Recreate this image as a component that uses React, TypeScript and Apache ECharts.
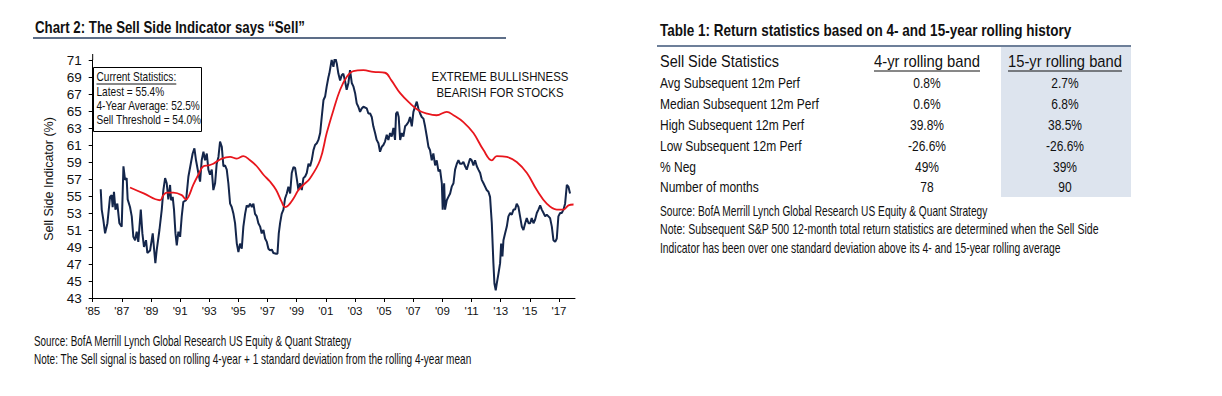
import React, { useEffect, useRef } from "react";
import * as echarts from "echarts";

// Sell Side Indicator (monthly-ish readings, decimal years)
const indicatorDates = [
  1985.55, 1985.62, 1985.73, 1985.85, 1986.01, 1986.19, 1986.3, 1986.37, 1986.46, 1986.56,
  1986.69, 1986.83, 1986.99, 1987.11, 1987.22, 1987.33, 1987.4, 1987.56, 1987.68, 1987.79,
  1987.91, 1988.02, 1988.13, 1988.3, 1988.41, 1988.52, 1988.66, 1988.75, 1988.94, 1989.12,
  1989.21, 1989.3, 1989.39, 1989.58, 1989.74, 1989.85, 1989.97, 1990.08, 1990.19, 1990.31,
  1990.38, 1990.49, 1990.58, 1990.68, 1990.77, 1990.88, 1991.0, 1991.11, 1991.22, 1991.41,
  1991.57, 1991.73, 1991.86, 1991.98, 1992.09, 1992.25, 1992.37, 1992.48, 1992.6, 1992.71,
  1992.83, 1992.94, 1993.05, 1993.17, 1993.28, 1993.4, 1993.51, 1993.63, 1993.74, 1993.86,
  1993.97, 1994.08, 1994.2, 1994.31, 1994.43, 1994.54, 1994.66, 1994.77, 1994.89, 1995.0,
  1995.11, 1995.23, 1995.34, 1995.46, 1995.57, 1995.69, 1995.8, 1995.92, 1996.03, 1996.14,
  1996.26, 1996.37, 1996.49, 1996.6, 1996.72, 1996.83, 1996.95, 1997.06, 1997.17, 1997.29,
  1997.4, 1997.59, 1997.68, 1997.77, 1997.86, 1997.97, 1998.09, 1998.2, 1998.32, 1998.43,
  1998.55, 1998.66, 1998.78, 1998.89, 1999.0, 1999.12, 1999.23, 1999.35, 1999.46, 1999.58,
  1999.69, 1999.81, 1999.92, 2000.03, 2000.15, 2000.26, 2000.38, 2000.49, 2000.61, 2000.72,
  2000.84, 2000.95, 2001.06, 2001.18, 2001.24, 2001.4, 2001.52, 2001.63, 2001.75, 2001.86,
  2001.98, 2002.09, 2002.2, 2002.32, 2002.43, 2002.55, 2002.66, 2002.78, 2002.89, 2003.01,
  2003.12, 2003.23, 2003.35, 2003.46, 2003.58, 2003.81, 2003.92, 2004.04, 2004.15, 2004.26,
  2004.38, 2004.49, 2004.61, 2004.72, 2004.84, 2004.95, 2005.06, 2005.18, 2005.29, 2005.41,
  2005.52, 2005.64, 2005.75, 2005.82, 2005.91, 2006.0, 2006.1, 2006.21, 2006.32, 2006.44,
  2006.55, 2006.67, 2006.78, 2006.9, 2007.01, 2007.12, 2007.24, 2007.35, 2007.47, 2007.58,
  2007.7, 2007.81, 2007.93, 2008.04, 2008.15, 2008.27, 2008.38, 2008.5, 2008.61, 2008.73,
  2008.84, 2008.96, 2009.02, 2009.12, 2009.18, 2009.3, 2009.41, 2009.53, 2009.64, 2009.76,
  2009.87, 2009.99, 2010.1, 2010.21, 2010.33, 2010.44, 2010.56, 2010.67, 2010.79, 2010.9,
  2011.01, 2011.13, 2011.24, 2011.36, 2011.47, 2011.59, 2011.7, 2011.82, 2011.93, 2012.04,
  2012.16, 2012.27, 2012.39, 2012.5, 2012.57, 2012.66, 2012.73, 2012.85, 2012.96, 2013.03,
  2013.12, 2013.19, 2013.3, 2013.42, 2013.53, 2013.65, 2013.76, 2013.88, 2013.99, 2014.1,
  2014.22, 2014.33, 2014.45, 2014.56, 2014.68, 2014.79, 2014.91, 2015.02, 2015.13, 2015.25,
  2015.36, 2015.48, 2015.59, 2015.71, 2015.82, 2015.94, 2016.05, 2016.16, 2016.28, 2016.39,
  2016.51, 2016.62, 2016.74, 2016.85, 2016.96, 2017.08, 2017.19, 2017.31, 2017.42, 2017.54,
  2017.65, 2017.76,
];
const indicatorValues = [
  55.8, 53.4, 52.2, 50.6, 51.8, 54.9, 55.1, 53.7, 55.5, 53.4,
  54.1, 51.8, 51.4, 58.5, 56.9, 57.1, 54.6, 53.7, 52.6, 50.2,
  49.8, 50.8, 49.6, 53.4, 50.6, 49.0, 49.8, 48.3, 48.6, 50.6,
  48.8, 47.1, 48.6, 51.0, 53.4, 55.7, 57.1, 56.5, 54.6, 56.3,
  54.5, 54.9, 53.4, 50.6, 49.2, 50.8, 50.2, 52.6, 54.3, 54.5,
  57.3, 58.8, 60.0, 60.6, 59.2, 57.7, 56.7, 59.2, 60.2, 59.2,
  60.0, 58.1, 57.5, 58.1, 55.7, 56.5, 58.8, 59.6, 61.4, 60.8,
  58.5, 58.6, 58.1, 56.5, 54.1, 53.7, 52.9, 51.8, 49.4, 48.4,
  49.4, 48.8, 51.4, 52.9, 53.9, 53.7, 54.1, 53.7, 54.1, 52.9,
  52.6, 51.8, 51.4, 50.6, 51.0, 50.0, 49.6, 48.8, 48.6, 48.7,
  48.3, 48.2, 48.2, 50.6, 51.8, 52.9, 53.4, 54.7, 55.3, 56.1,
  55.3, 57.7, 58.4, 58.3, 57.1, 55.7, 56.5, 55.7, 57.1, 57.3,
  57.7, 58.8, 58.5, 59.2, 60.4, 61.0, 61.2, 61.6, 62.4, 64.3,
  66.3, 66.7, 67.9, 69.0, 69.4, 71.0, 70.2, 71.4, 70.6, 69.4,
  68.6, 69.2, 69.4, 68.5, 67.5, 68.3, 69.8, 68.3, 67.9, 67.1,
  65.9, 65.5, 64.9, 65.3, 65.5, 65.3, 64.7, 64.7, 64.3, 63.2,
  62.4, 61.6, 61.2, 60.2, 60.8, 61.0, 61.4, 62.2, 61.6, 62.4,
  62.0, 63.0, 61.6, 64.7, 64.9, 64.3, 61.6, 62.4, 62.0, 63.2,
  63.4, 63.7, 64.3, 63.2, 64.9, 65.5, 66.1, 65.3, 64.7, 64.3,
  64.1, 63.2, 62.0, 60.8, 60.4, 59.2, 60.0, 58.6, 59.2, 57.9,
  58.1, 56.5, 53.4, 56.5, 53.4, 54.5, 54.9, 55.3, 56.1, 56.5,
  58.1, 58.8, 59.2, 58.8, 58.8, 59.0, 58.5, 58.1, 58.8, 59.4,
  59.2, 58.6, 59.2, 58.5, 58.1, 57.7, 56.9, 56.5, 56.1, 55.7,
  55.5, 54.9, 51.8, 47.1, 44.7, 43.9, 44.7, 45.9, 47.1, 49.4,
  47.9, 49.8, 50.6, 51.4, 52.6, 53.0, 52.8, 53.4, 53.4, 54.1,
  53.7, 52.6, 51.4, 51.0, 51.8, 52.4, 51.8, 51.8, 52.4, 51.8,
  52.2, 53.0, 53.4, 53.9, 53.4, 53.0, 52.6, 52.8, 52.6, 52.4,
  51.4, 49.8, 49.6, 50.0, 52.6, 53.0, 53.0, 53.4, 54.1, 56.3,
  56.1, 55.3,
];

// Rolling band (red line)
const bandDates = [
  1987.56, 1988.5, 1989.62, 1989.85, 1990.08, 1990.54, 1991.11, 1991.4, 1991.57, 1991.9,
  1992.25, 1992.6, 1992.94, 1993.28, 1993.86, 1994.43, 1994.89, 1995.34, 1995.8, 1996.26,
  1996.72, 1997.17, 1997.59, 1997.97, 1998.2, 1998.43, 1998.78, 1999.12, 1999.46, 1999.92,
  2000.6, 2001.06, 2001.52, 2001.98, 2002.43, 2002.89, 2003.58, 2004.26, 2005.06, 2005.5,
  2006.1, 2006.78, 2007.35, 2007.93, 2008.6, 2009.3, 2009.76, 2010.44, 2011.13, 2011.82,
  2012.39, 2012.73, 2013.42, 2014.1, 2014.8, 2015.48, 2016.16, 2016.85, 2017.31, 2017.65,
  2018.0,
];
const bandValues = [
  56.0, 55.3, 54.5, 55.1, 55.4, 55.4, 55.1, 54.6, 54.9, 56.3,
  57.5, 58.5, 58.6, 58.8, 59.4, 59.6, 59.4, 59.7, 59.2, 58.5,
  57.5, 56.7, 55.7, 54.3, 53.7, 53.9, 54.7, 55.7, 56.3, 57.1,
  59.2, 62.4, 65.1, 67.5, 69.0, 69.7, 69.8, 69.6, 69.5, 68.6,
  67.1, 65.9, 65.1, 64.7, 64.5, 64.9, 64.5, 63.7, 62.4, 60.4,
  59.2, 59.7, 59.6, 59.0, 57.7, 55.7, 54.1, 53.4, 53.4, 53.9,
  54.0,
];

const xTickYears = [1985, 1987, 1989, 1991, 1993, 1995, 1997, 1999, 2001, 2003, 2005, 2007, 2009, 2011, 2013, 2015, 2017];

const chartTitle = "Chart 2: The Sell Side Indicator says “Sell”";
const yAxisName = "Sell Side Indicator (%)";
const statLines = ["Current Statistics:", "Latest = 55.4%", "4-Year Average: 52.5%", "Sell Threshold = 54.0%"];
const annotationLines = ["EXTREME BULLISHNESS", "BEARISH FOR STOCKS"];
const chartNotes = [
  "Source: BofA Merrill Lynch Global Research US Equity & Quant Strategy",
  "Note: The Sell signal is based on rolling 4-year + 1 standard deviation from the rolling 4-year mean",
];

const tableTitle = "Table 1: Return statistics based on 4- and 15-year rolling history";
const tableHeader = ["Sell Side Statistics", "4-yr rolling band", "15-yr rolling band"];
const tableLabels = [
  "Avg Subsequent 12m Perf",
  "Median Subsequent 12m Perf",
  "High Subsequent 12m Perf",
  "Low Subsequent 12m Perf",
  "% Neg",
  "Number of months",
];
const band4Values = ["0.8%", "0.6%", "39.8%", "-26.6%", "49%", "78"];
const band15Values = ["2.7%", "6.8%", "38.5%", "-26.6%", "39%", "90"];
const tableNotes = [
  "Source: BofA Merrill Lynch Global Research US Equity & Quant Strategy",
  "Note: Subsequent S&P 500 12-month total return statistics are determined when the Sell Side",
  "Indicator has been over one standard deviation above its 4- and 15-year rolling average",
];

const FAMILY = "'Liberation Sans', Arial, sans-serif";

function measure(text: string, font: string): number {
  const c = document.createElement("canvas");
  const ctx = c.getContext("2d");
  if (!ctx) return text.length * 6;
  ctx.font = font;
  return ctx.measureText(text).width;
}

type TOpts = { weight?: string; align?: string; width?: number; scale?: number; fill?: string; z?: number };

function txt(text: string, x: number, y: number, size: number, opts: TOpts = {}) {
  const weight = opts.weight || "normal";
  const w = measure(text, `${weight} ${size}px ${FAMILY}`);
  const scale = opts.width ? opts.width / w : opts.scale ?? 1;
  const el: any = {
    type: "text",
    x,
    y,
    scaleX: scale,
    scaleY: 1,
    silent: true,
    style: {
      text,
      fontSize: size,
      fontFamily: FAMILY,
      fontWeight: weight,
      fill: opts.fill || "#111",
      textAlign: opts.align || "left",
      align: opts.align || "left",
      textVerticalAlign: "middle",
      verticalAlign: "middle",
    },
  };
  if (opts.z != null) el.z = opts.z;
  return { el, width: w * scale };
}

export default function App() {
  const ref = useRef<HTMLDivElement>(null);

  useEffect(() => {
    if (!ref.current) return;
    const chart = echarts.init(ref.current, null, { renderer: "svg" });

    const g: any[] = [];
    // Left chart title + rule
    g.push(txt(chartTitle, 35, 27, 17, { weight: "bold", width: 270 }).el);
    g.push({ type: "line", shape: { x1: 33, y1: 38, x2: 506, y2: 38 }, style: { stroke: "#5d6e88", lineWidth: 2 } });
    // axis line stub above top tick
    g.push({ type: "line", shape: { x1: 92.7, y1: 54, x2: 92.7, y2: 60 }, style: { stroke: "#000", lineWidth: 1 } });

    // Stats box
    g.push({ type: "rect", z: 10, shape: { x: 93.5, y: 67.5, width: 108, height: 64 }, style: { fill: "#fff", stroke: "#000", lineWidth: 1 } });
    const boxScale = 104 / measure(statLines[2], `normal 12px ${FAMILY}`);
    const statYs = [77, 91.5, 106, 119.5];
    let headW = 0;
    statLines.forEach((s, i) => {
      const t = txt(s, 96.5, statYs[i], 12, { scale: boxScale, z: 11 });
      if (i === 0) headW = t.width;
      g.push(t.el);
    });
    g.push({ type: "line", z: 11, shape: { x1: 96.5, y1: 84, x2: 96.5 + headW, y2: 84 }, style: { stroke: "#111", lineWidth: 1 } });

    // Annotation
    g.push(txt(annotationLines[0], 500, 77, 13.5, { align: "center", width: 137 }).el);
    g.push(txt(annotationLines[1], 500, 93, 13.5, { align: "center", width: 127 }).el);

    // Chart notes
    g.push(txt(chartNotes[0], 34, 341, 14, { width: 318 }).el);
    g.push(txt(chartNotes[1], 34, 359, 14, { width: 438 }).el);

    // Table
    g.push(txt(tableTitle, 660, 31, 16, { weight: "bold", width: 412 }).el);
    g.push({ type: "rect", shape: { x: 1001, y: 47, width: 130, height: 150 }, style: { fill: "#dde4ee" } });
    g.push({ type: "line", shape: { x1: 657, y1: 46, x2: 1131, y2: 46 }, style: { stroke: "#6d7f99", lineWidth: 2 } });
    const col4 = 927;
    const col15 = 1065;
    g.push(txt(tableHeader[0], 660, 61, 17, { width: 119 }).el);
    const h4 = txt(tableHeader[1], col4, 61, 17, { align: "center", width: 106 });
    const h15 = txt(tableHeader[2], col15, 61, 17, { align: "center", width: 114 });
    g.push(h4.el, h15.el);
    g.push({ type: "line", shape: { x1: col4 - h4.width / 2, y1: 71, x2: col4 + h4.width / 2, y2: 71 }, style: { stroke: "#111", lineWidth: 1 } });
    g.push({ type: "line", shape: { x1: col15 - h15.width / 2, y1: 71, x2: col15 + h15.width / 2, y2: 71 }, style: { stroke: "#111", lineWidth: 1 } });
    const rowScale = 140 / measure(tableLabels[0], `normal 15px ${FAMILY}`);
    tableLabels.forEach((l, i) => {
      const y = 83 + i * 20.9;
      g.push(txt(l, 660, y, 15, { scale: rowScale }).el);
      g.push(txt(band4Values[i], col4, y, 15, { align: "center", scale: rowScale }).el);
      g.push(txt(band15Values[i], col15, y, 15, { align: "center", scale: rowScale }).el);
    });
    const noteWidths = [328, 439, 401];
    tableNotes.forEach((n, i) => {
      g.push(txt(n, 660, 211 + i * 18.7, 14, { width: noteWidths[i] }).el);
    });

    chart.setOption({
      animation: false,
      backgroundColor: "#ffffff",
      graphic: g,
      grid: { left: 92.7, right: 647, top: 60, bottom: 98, containLabel: false },
      xAxis: {
        type: "value",
        min: 1985,
        max: 2018.1,
        interval: 2,
        axisLine: { show: true, lineStyle: { color: "#000", width: 1 } },
        axisTick: { show: true, length: 4, lineStyle: { color: "#000" }, customValues: xTickYears },
        axisLabel: {
          show: true,
          color: "#111",
          fontSize: 11.5,
          fontFamily: FAMILY,
          margin: 7,
          customValues: xTickYears,
          formatter: (v: number) => (xTickYears.indexOf(Math.round(v * 100) / 100) >= 0 ? "'" + String(v).slice(2, 4) : ""),
        },
        splitLine: { show: false },
      },
      yAxis: {
        type: "value",
        min: 43,
        max: 71,
        interval: 2,
        name: yAxisName,
        nameLocation: "middle",
        nameGap: 37,
        nameTextStyle: { fontSize: 12.5, fontFamily: FAMILY, color: "#111" },
        axisLine: { show: true, lineStyle: { color: "#000", width: 1 } },
        axisTick: { show: true, length: 4, lineStyle: { color: "#000" } },
        axisLabel: { color: "#111", fontSize: 13.5, fontFamily: FAMILY, margin: 11 },
        splitLine: { show: false },
      },
      series: [
        {
          type: "line",
          data: indicatorDates.map((d, i) => [d, indicatorValues[i]]),
          showSymbol: false,
          lineStyle: { color: "#14264b", width: 2 },
          z: 3,
        },
        {
          type: "line",
          data: bandDates.map((d, i) => [d, bandValues[i]]),
          showSymbol: false,
          smooth: 0.4,
          lineStyle: { color: "#e8161d", width: 1.8 },
          z: 4,
        },
      ],
    });
    return () => chart.dispose();
  }, []);

  return (
    <div
      ref={ref}
      style={{ position: "absolute", left: 0, top: 0, width: 1222, height: 396, background: "#fff" }}
    />
  );
}
